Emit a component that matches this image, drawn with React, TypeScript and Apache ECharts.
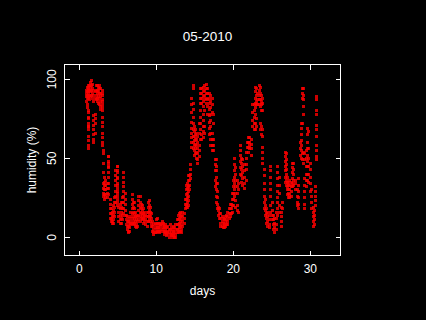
import React, { useEffect, useRef } from "react";
import * as echarts from "echarts";

type Row = [number, number[]];

const TITLE = "05-2010";
const X_NAME = "days";
const Y_NAME = "humidity (%)";
const X_TICKS = [0, 10, 20, 30];
const Y_TICKS = [0, 50, 100];

const earlyMay: Row[] = [
  [0.95, [93, 91, 89, 86]], [1.05, [95, 92, 90, 88, 84, 82]], [1.15, [96, 93, 91, 89, 79, 76, 72, 70, 68]],
  [1.25, [94, 92, 88, 80, 75, 70, 64, 61, 58, 56]], [1.35, [96, 93, 90, 87]], [1.5, [98, 95, 92, 89]],
  [1.6, [99, 96, 93, 90]], [1.75, [97, 94, 91, 88]], [1.9, [93, 90, 86, 77, 74, 71, 68, 65, 62, 60]],
  [2.05, [92, 88, 78, 75, 72, 66]], [2.2, [96, 93, 90, 87]], [2.35, [96, 93, 91, 88, 86]],
  [2.5, [95, 92, 89, 85]], [2.65, [96, 94, 91, 88, 84]], [2.8, [94, 91, 89, 86, 83, 81]],
  [2.95, [93, 90, 87, 84, 80]], [3.05, [91, 86, 82, 76, 73, 70, 66, 63, 60, 58]],
  [3.15, [55, 53, 47, 41, 34, 31, 28, 26]], [3.3, [38, 35, 33, 30, 27, 24]], [3.45, [36, 33, 30, 27, 25]],
  [3.6, [34, 31, 28, 25]], [3.75, [51, 48, 45, 41, 38, 34]], [3.85, [51, 47, 44, 31, 27]],
  [4.0, [24, 21, 18, 15, 12]], [4.15, [18, 15, 12, 10]], [4.3, [16, 13, 10, 9]],
  [4.45, [20, 17, 14, 11, 9]], [4.6, [25, 22, 19, 16, 13]], [4.75, [42, 39, 36, 33, 29, 26, 22]],
  [4.9, [45, 42, 38, 34, 31, 28, 24, 20]], [5.0, [45, 41, 37, 33, 29, 26, 22]], [5.15, [19, 16, 13, 10]],
  [5.3, [21, 18, 14, 11, 9]], [5.45, [22, 19, 16, 12, 9]], [5.6, [25, 22, 18, 14, 11]],
  [5.8, [41, 38, 35, 32, 29, 26, 22, 18, 15]], [5.95, [28, 24, 21, 17, 14]], [6.1, [14, 11, 8]],
  [6.25, [13, 10, 7, 5]], [6.4, [10, 7, 4, 3]], [6.55, [12, 9, 6, 4]], [6.7, [16, 13, 10, 8]],
  [6.85, [27, 24, 21, 18, 15, 12, 9]],
];

const midMay: Row[] = [
  [7.0, [22, 19, 16, 13, 10, 8]], [7.15, [22, 18, 15, 12, 9]], [7.3, [16, 13, 10, 7]], [7.45, [14, 11, 8, 6]],
  [7.6, [13, 10, 7]], [7.75, [26, 23, 20, 17, 14, 11]], [7.9, [26, 22, 19, 16, 13, 10]], [8.05, [21, 18, 15, 12]],
  [8.2, [20, 17, 14, 11]], [8.35, [18, 15, 12, 9]], [8.5, [16, 13, 10]], [8.65, [14, 11, 8]],
  [8.8, [16, 13, 10, 7]], [8.95, [22, 19, 16, 13, 10]], [9.1, [23, 20, 17, 14, 11]], [9.25, [19, 16, 13, 10]],
  [9.4, [15, 12, 9, 7]], [9.55, [10, 7, 4]], [9.7, [8, 5, 3, 2]], [9.85, [9, 6, 3]], [10.0, [11, 8, 5, 3]],
  [10.15, [12, 9, 6, 4]], [10.3, [9, 6, 4]], [10.45, [8, 5, 3]], [10.6, [9, 7, 4]], [10.75, [10, 8, 5]],
  [10.9, [9, 6, 4]], [11.05, [7, 4, 2]], [11.2, [8, 5, 3]], [11.35, [6, 3, 1]], [11.5, [7, 4, 2]],
  [11.65, [5, 3, 0]], [11.8, [8, 5, 2]], [11.95, [6, 3, 1]], [12.1, [5, 2, 0]], [12.25, [7, 4, 1]],
  [12.4, [6, 3, 0]], [12.55, [8, 5, 2, 0]], [12.7, [11, 8, 5, 3]], [12.85, [14, 11, 8, 5, 3]],
  [13.0, [15, 12, 9, 6, 4]], [13.15, [16, 13, 10, 7, 4]], [13.3, [14, 11, 8, 5, 3]], [13.45, [16, 13, 10, 7]],
  [13.6, [15, 12, 9]], [13.75, [24, 21, 18]], [13.9, [33, 30, 27, 24, 21, 19]], [14.05, [34, 31, 28, 25, 22, 19]],
  [14.2, [39, 36, 32, 29, 26, 23, 20]], [14.35, [39, 36, 33, 30]], [14.5, [46, 43, 40, 37]],
  [14.62, [88, 84, 79, 73, 69, 66, 63, 60, 57]], [14.8, [96, 94, 85, 81, 76, 72, 68, 64, 60, 56]],
  [14.95, [70, 67, 64, 61, 58, 55, 52]], [15.1, [68, 65, 62, 59, 56, 53]], [15.25, [66, 62, 58, 54, 50]],
  [15.4, [64, 60, 56, 53, 49, 47]], [15.55, [72, 66, 58, 55, 51]], [15.75, [94, 91, 88, 85, 80, 76, 72, 68, 62]],
  [15.9, [94, 91, 88, 85, 65, 62]], [16.1, [95, 92, 89, 86, 83, 78, 74, 70, 67, 63]],
  [16.3, [96, 93, 90, 87, 80, 70, 66]], [16.5, [97, 94, 91, 88, 85]], [16.65, [94, 91, 87, 83, 78]],
  [16.85, [91, 88, 85, 81, 77, 73, 69, 65]], [17.05, [90, 86, 82, 78, 74, 70, 66, 62, 58]],
  [17.25, [88, 84, 79, 66, 62, 58, 55]], [17.45, [78, 72, 62, 58, 55]],
];

const lateMay: Row[] = [
  [17.65, [49, 46, 42, 36, 32]], [17.8, [49, 45, 42, 38, 34, 30, 26, 22]], [17.95, [34, 29, 25, 21, 18]],
  [18.1, [19, 17, 14]], [18.25, [18, 15, 12]], [18.4, [15, 12, 9, 7]], [18.55, [13, 10, 7]], [18.7, [12, 9, 6]],
  [18.85, [11, 8, 6]], [19.0, [13, 10, 7]], [19.15, [14, 11, 8]], [19.3, [16, 13, 10, 8]], [19.45, [18, 15, 12]],
  [19.6, [21, 18, 15, 13]], [19.75, [21, 18, 15]], [19.9, [28, 24, 20, 16]], [20.05, [36, 32, 28, 24, 20]],
  [20.2, [50, 46, 42, 38, 34, 30, 26]], [20.35, [44, 40, 36, 32, 28, 23, 19]], [20.5, [36, 32, 28, 20, 17]],
  [20.65, [34, 30, 16]], [20.95, [58, 55, 52, 48, 44, 40]], [21.1, [50, 47, 43, 39, 35]], [21.25, [49, 45, 41, 37, 33]],
  [21.45, [46, 42, 38, 34, 31]], [21.65, [54, 50, 46, 43, 36]], [21.85, [60, 57]], [22.0, [63, 60, 57, 54]],
  [22.15, [63, 60, 58, 56]], [22.3, [62, 59, 56, 52]], [22.55, [84, 79, 74, 70]], [22.7, [84, 80, 76, 72, 68]],
  [22.85, [95, 92, 88, 85, 82, 78, 72, 68]], [23.0, [94, 90, 86, 84, 75, 70]], [23.15, [91, 87, 84]],
  [23.35, [96, 93, 90, 87, 84]], [23.5, [95, 91, 87, 83, 72, 68]], [23.65, [90, 86, 84, 80, 70, 65]],
  [23.8, [88, 85, 80, 68, 64, 57, 54, 50, 47]], [24.0, [43, 39, 34, 30, 26, 22, 18]], [24.2, [24, 20, 17, 14]],
  [24.35, [18, 15, 12, 9]], [24.5, [16, 13, 10, 7]], [24.65, [14, 11, 8, 6]], [24.85, [45, 42, 38, 34, 30, 26, 20, 16]],
  [25.05, [22, 17, 14, 11]], [25.25, [14, 11, 8, 5]], [25.4, [12, 9, 6, 3]], [25.55, [16, 12, 8, 5]],
  [25.8, [45, 41, 37, 33, 29, 25, 22, 18, 14]], [26.0, [38, 33, 28, 20, 16]], [26.2, [19, 16, 13, 10, 7]],
  [26.4, [22, 18]], [26.75, [54, 51, 48, 45, 42, 38, 35]], [26.9, [53, 49, 46, 43, 40, 36, 33]],
  [27.05, [38, 35, 32, 30, 27]], [27.2, [35, 33, 30, 28, 25]], [27.35, [36, 33, 30, 27, 25]], [27.5, [35, 32, 29, 26]],
  [27.7, [47, 44, 41, 37, 34, 32]], [27.85, [47, 43, 40, 36, 33]], [28.05, [30, 34, 36]], [28.3, [30, 26, 22, 20]],
  [28.45, [37, 33, 29, 25, 21, 18]], [28.7, [60, 56, 52]], [28.8, [72, 69, 65, 61, 58, 55, 50]],
  [28.95, [94, 91, 88, 72, 53, 49]], [29.1, [94, 90, 87, 83, 78, 54, 47]], [29.25, [53, 49, 37, 33, 29, 25, 21, 18]],
  [29.45, [55, 50, 45, 40, 36, 32]], [29.65, [69, 65, 60, 56, 52, 48, 45, 40, 36]], [29.8, [67, 56, 50, 45, 40, 35]],
  [30.0, [47, 43, 38, 34, 29]], [30.2, [30, 26, 22, 18]], [30.35, [19, 16, 13, 10, 7]], [30.5, [17, 14, 11, 8]],
  [30.7, [32, 29, 26, 23, 20]], [30.85, [89, 87, 80, 78, 71, 68, 64, 58, 55, 51, 49]],
];

const rows: Row[] = [...earlyMay, ...midMay, ...lateMay];
const points = rows.flatMap(([d, hs]) => hs.map((h) => [d, h]));

const WHITE = "#ffffff";
const FONT = "'Liberation Sans', Arial, sans-serif";

export default function App() {
  const ref = useRef<HTMLDivElement>(null);
  useEffect(() => {
    document.body.style.margin = "0";
    document.body.style.background = "#000";
    const chart = echarts.init(ref.current!, undefined, { renderer: "svg" });
    const xBase = {
      type: "value", min: -1.92, max: 33.92, splitLine: { show: false },
      axisLine: { show: true, onZero: false, lineStyle: { color: WHITE, width: 1 } },
      axisTick: { show: true, inside: true, length: 5, customValues: X_TICKS, lineStyle: { color: WHITE } },
    };
    const yBase = {
      type: "value", min: -11.5, max: 109.4, splitLine: { show: false },
      axisLine: { show: true, onZero: false, lineStyle: { color: WHITE, width: 1 } },
      axisTick: { show: true, inside: true, length: 5, customValues: Y_TICKS, lineStyle: { color: WHITE } },
    };
    chart.setOption({
      animation: false,
      backgroundColor: "#000000",
      title: {
        text: TITLE, left: 202.5, top: 24, textAlign: "center",
        textStyle: { color: WHITE, fontFamily: FONT, fontSize: 13.5, fontWeight: "normal" },
      },
      grid: { left: 64.5, right: 85.5, top: 64.5, bottom: 64.5 },
      xAxis: [
        {
          ...xBase, position: "bottom", name: X_NAME, nameLocation: "middle", nameGap: 29,
          nameTextStyle: { color: WHITE, fontFamily: FONT, fontSize: 12 },
          axisLabel: { show: true, customValues: X_TICKS, color: WHITE, fontFamily: FONT, fontSize: 12, margin: 7, hideOverlap: false },
        },
        { ...xBase, position: "top", axisLabel: { show: false } },
      ],
      yAxis: [
        {
          ...yBase, position: "left", name: Y_NAME, nameLocation: "middle", nameGap: 22,
          nameTextStyle: { color: WHITE, fontFamily: FONT, fontSize: 12 },
          axisLabel: { show: true, customValues: Y_TICKS, rotate: 90, color: WHITE, fontFamily: FONT, fontSize: 12, margin: 7, hideOverlap: false },
        },
        { ...yBase, position: "right", axisLabel: { show: false } },
      ],
      series: [
        {
          type: "scatter", xAxisIndex: 0, yAxisIndex: 0, data: points,
          symbol: "rect", symbolSize: 3, itemStyle: { color: "#ff0000" }, silent: true,
        },
      ],
    });
    ref.current!.querySelectorAll("svg path").forEach((p) => p.setAttribute("shape-rendering", "crispEdges"));
    return () => chart.dispose();
  }, []);
  return <div ref={ref} style={{ width: 426, height: 320 }} />;
}
